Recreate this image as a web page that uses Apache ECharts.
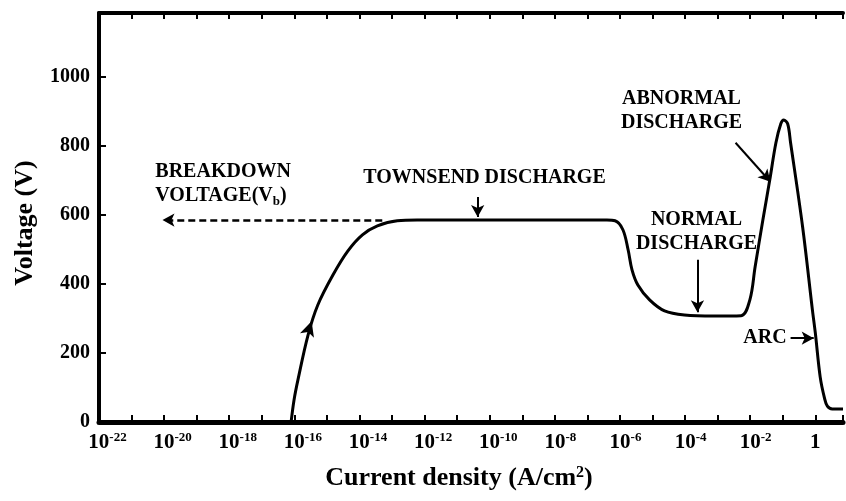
<!DOCTYPE html>
<html>
<head>
<meta charset="utf-8">
<script src="https://cdn.jsdelivr.net/npm/echarts@6/dist/echarts.min.js"></script>
<style>
  html, body { margin: 0; padding: 0; background: #fff; }
  #chart { width: 846px; height: 501px; }
</style>
</head>
<body>
<div id="chart"></div>
<script>
// Glow-discharge characteristic: log10 of current density (A/cm^2) and voltage (V)
const logCurrent = [
  -16.10, -16.01, -15.89, -15.58, -15.28, -14.82, -14.36, -13.91, -13.45, -12.84,
  -12.23, -10.00, -8.00, -6.40, -6.15, -5.91, -5.75, -5.63, -5.45, -5.09,
  -4.63, -4.02, -3.11, -2.28, -2.01, -1.85, -1.61, -1.40, -1.21, -1.06,
  -0.97, -0.85, -0.76, -0.39, -0.09, 0.00, 0.15, 0.28, 0.37, 0.52,
  0.70, 0.85
];
const voltage = [
  0, 64, 122, 252, 339, 425, 495, 542, 568, 583,
  585, 585, 585, 585, 583, 557, 499, 441, 397, 354,
  322, 310, 307, 308, 354, 449, 586, 701, 809, 864,
  875, 864, 809, 565, 325, 258, 130, 70, 46, 38,
  38, 38
];

// Axis ranges (decades of current density, volts)
const xRange = [-22, 0.85];
const yRange = [0, 1185];
const yTickStep = 200;

// Region names written on the plot
const labelTexts = {
  townsend: 'TOWNSEND DISCHARGE',
  breakdown: 'BREAKDOWN\nVOLTAGE(V{sub|b})',
  normal: 'NORMAL\nDISCHARGE',
  abnormal: 'ABNORMAL\nDISCHARGE',
  arc: 'ARC'
};
const breakdownVoltage = 585;

const FONT = '"Liberation Serif", "Times New Roman", serif';
const curve = logCurrent.map((x, i) => [x, voltage[i]]);

const chart = echarts.init(document.getElementById('chart'), null, { renderer: 'canvas' });

const tickFont = { fontFamily: FONT, fontWeight: 'bold', color: '#000' };
const annoFont = { fontFamily: FONT, fontWeight: 'bold', fontSize: 20, color: '#000', lineHeight: 24 };

function textPoint(coord, text, align) {
  return {
    coord: coord,
    symbol: 'circle',
    symbolSize: 0,
    label: Object.assign({
      show: true,
      position: 'inside',
      formatter: text,
      align: align,
      verticalAlign: 'middle',
      rich: { sub: { fontFamily: FONT, fontWeight: 'bold', fontSize: 13, verticalAlign: 'bottom', lineHeight: 24, padding: [6, 0, 0, 0] } }
    }, annoFont)
  };
}

function arrow(from, to, dashed) {
  return [
    { coord: from },
    {
      coord: to,
      lineStyle: dashed ? { type: [7, 4], width: 2.5, color: '#000' } : { type: 'solid', width: 2, color: '#000' }
    }
  ];
}

const xTickLabel = v => {
  if (Math.abs(v % 2) > 1e-9) return '';
  if (v === 0) return '{b|1}';
  const s = String(v);
  return '{p' + s.length + '|}{b|10}{sup|' + s + '}';
};

const option = {
  backgroundColor: '#fff',
  animation: false,
  grid: { left: 99, top: 13, right: -4, bottom: 79, containLabel: false },
  xAxis: [
    {
      type: 'value',
      min: xRange[0], max: xRange[1], interval: 1,
      position: 'bottom',
      axisLine: { show: true, onZero: false, lineStyle: { color: '#000', width: 5 } },
      axisTick: { show: true, inside: true, length: 7, lineStyle: { color: '#000', width: 2 } },
      splitLine: { show: false },
      axisLabel: {
        show: true,
        margin: 9,
        formatter: xTickLabel,
        rich: {
          b: Object.assign({ fontSize: 21, verticalAlign: 'bottom', lineHeight: 22 }, tickFont),
          sup: Object.assign({ fontSize: 13, verticalAlign: 'top', lineHeight: 22 }, tickFont),
          p3: { width: 17 },
          p2: { width: 11 }
        }
      }
    },
    {
      type: 'value',
      min: xRange[0], max: xRange[1], interval: 1,
      position: 'top',
      axisLine: { show: true, onZero: false, lineStyle: { color: '#000', width: 4 } },
      axisTick: { show: true, inside: true, length: 6, lineStyle: { color: '#000', width: 2 } },
      splitLine: { show: false },
      axisLabel: { show: false }
    }
  ],
  yAxis: {
    type: 'value',
    min: yRange[0], max: yRange[1], interval: yTickStep,
    axisLine: { show: true, onZero: false, lineStyle: { color: '#000', width: 4 } },
    axisTick: { show: true, inside: true, length: 7, lineStyle: { color: '#000', width: 2 } },
    splitLine: { show: false },
    axisLabel: Object.assign({
      fontSize: 20,
      margin: 9,
      formatter: v => (v % yTickStep === 0 ? String(v) : '')
    }, tickFont)
  },
  graphic: [
    {
      type: 'text',
      x: 25, y: 223,
      rotation: Math.PI / 2,
      style: {
        text: 'Voltage (V)',
        fontFamily: FONT, fontWeight: 'bold', fontSize: 26,
        fill: '#000',
        textAlign: 'center', textVerticalAlign: 'middle'
      }
    },
    {
      type: 'text',
      x: 459, y: 478,
      style: {
        text: 'Current density (A/cm{sup|2})',
        fontFamily: FONT, fontWeight: 'bold', fontSize: 26,
        fill: '#000',
        textAlign: 'center', textVerticalAlign: 'middle',
        rich: {
          sup: { fontFamily: FONT, fontWeight: 'bold', fontSize: 16, verticalAlign: 'top', fill: '#000' }
        }
      }
    }
  ],
  series: [
    {
      name: 'Discharge curve',
      type: 'line',
      data: curve,
      smooth: 0.35,
      showSymbol: false,
      lineStyle: { color: '#000', width: 3 },
      z: 3,
      markPoint: {
        silent: true,
        symbol: 'arrow',
        symbolSize: [11, 15],
        itemStyle: { color: '#000' },
        label: { show: false },
        data: [
          { coord: [-15.47, 292], symbolRotate: -18 }
        ]
      }
    },
    {
      name: 'Annotations',
      type: 'line',
      data: [],
      silent: true,
      markLine: {
        silent: true,
        symbol: ['none', 'arrow'],
        symbolSize: [10, 12],
        label: { show: false },
        lineStyle: { color: '#000', width: 2, type: 'solid' },
        data: [
          arrow([-13.3, breakdownVoltage], [-20.05, breakdownVoltage], true),
          arrow([-10.37, 652], [-10.37, 594], false),
          arrow([-3.62, 470], [-3.62, 318], false),
          arrow([-2.45, 809], [-1.38, 696], false),
          arrow([-0.76, 243], [-0.05, 243], false)
        ]
      },
      markPoint: {
        silent: true,
        data: [
          textPoint([-10.16, 707], labelTexts.townsend, 'center'),
          textPoint([-20.27, 690], labelTexts.breakdown, 'left'),
          textPoint([-3.65, 551], labelTexts.normal, 'center'),
          textPoint([-4.11, 901], labelTexts.abnormal, 'center'),
          textPoint([-0.88, 243], labelTexts.arc, 'right')
        ]
      }
    }
  ]
};

chart.setOption(option);
</script>
</body>
</html>
